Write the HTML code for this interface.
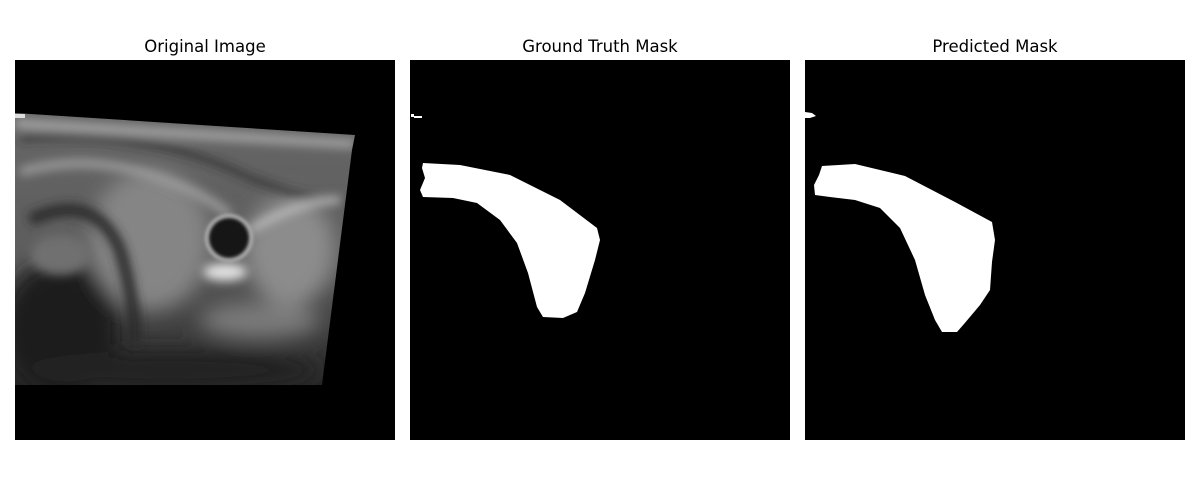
<!DOCTYPE html>
<html><head><meta charset="utf-8"><style>
body{margin:0;background:#fff;width:1200px;height:500px;overflow:hidden;font-family:"DejaVu Sans","Liberation Sans",sans-serif}
</style></head><body>
<svg width="1200" height="500">
<defs>
<filter id="b4" x="-20%" y="-20%" width="140%" height="140%"><feGaussianBlur stdDeviation="5"/></filter>
<filter id="b2"><feGaussianBlur stdDeviation="1.5"/></filter>
<filter id="b8" x="-20%" y="-20%" width="140%" height="140%"><feGaussianBlur stdDeviation="10"/></filter>
<clipPath id="us"><polygon points="15,113 355,135 352,150 322,385 15,385"/></clipPath>
<linearGradient id="fade" x1="0" y1="0" x2="0" y2="1"><stop offset="0" stop-color="#666"/><stop offset="0.55" stop-color="#5c5c5c"/><stop offset="1" stop-color="#262626"/></linearGradient>
</defs>
<g><text x="205" y="52" font-size="16.5" text-anchor="middle" fill="#000">Original Image</text></g>
<g><text x="600" y="52" font-size="16.5" text-anchor="middle" fill="#000">Ground Truth Mask</text></g>
<g><text x="995" y="52" font-size="16.5" text-anchor="middle" fill="#000">Predicted Mask</text></g>

<g>
<rect x="15" y="60" width="380" height="380" fill="#000"/>
<g clip-path="url(#us)">
<rect x="15" y="113" width="345" height="275" fill="url(#fade)"/>
<g filter="url(#b8)">
<ellipse cx="60" cy="330" rx="60" ry="70" fill="#1c1c1c"/>
<ellipse cx="150" cy="240" rx="60" ry="70" fill="#858585"/>
<ellipse cx="290" cy="250" rx="45" ry="55" fill="#8c8c8c"/>
<ellipse cx="170" cy="370" rx="150" ry="20" fill="#202020"/>
<ellipse cx="260" cy="320" rx="60" ry="18" fill="#7a7a7a"/>
</g>
<g filter="url(#b4)">
<path d="M15,119 L355,140 L355,148 L15,128Z" fill="#aaa"/>
<path d="M20,138 Q150,128 250,178 Q300,198 350,203" stroke="#2a2a2a" stroke-width="5" fill="none"/>
<path d="M20,172 Q80,155 140,172 Q200,190 230,215" stroke="#a0a0a0" stroke-width="8" fill="none"/>
<path d="M30,220 Q95,190 120,250 Q135,300 135,345" stroke="#2a2a2a" stroke-width="12" fill="none"/>
<ellipse cx="60" cy="255" rx="30" ry="20" fill="#707070"/>
<ellipse cx="225" cy="272" rx="22" ry="9" fill="#e0e0e0"/>
<path d="M250,230 Q300,200 340,200" stroke="#c8c8c8" stroke-width="6" fill="none"/>
</g>
<circle cx="229" cy="238" r="24" fill="#b0b0b0" filter="url(#b2)"/>
<circle cx="229" cy="238" r="20" fill="#141414" filter="url(#b2)"/>
</g>
<rect x="15" y="114" width="10" height="4" fill="#ddd"/>
</g>

<g>
<rect x="410" y="60" width="380" height="380" fill="#000"/>
<rect x="411" y="114" width="3" height="3" fill="#fff"/><rect x="414" y="116" width="8" height="2" fill="#fff"/>
<path fill="#fff" d="M423,163 L460,165 L510,175 L560,200 L597,228 L600,240 L595,260 L585,293 L577,312 L563,318 L543,317 L537,307 L528,273 L517,243 L500,220 L477,203 L453,198 L423,197 L420,190 L425,178 L422,168Z"/>
</g>

<g>
<rect x="805" y="60" width="380" height="380" fill="#000"/>
<path fill="#fff" d="M805,112 L812,113 L816,116 L810,118 L805,118Z"/>
<path fill="#fff" d="M822,166 L855,164 L905,176 L955,202 L992,222 L995,240 L992,262 L990,290 L980,305 L964,324 L957,332 L942,332 L935,320 L925,295 L915,260 L900,228 L880,208 L855,200 L830,197 L815,195 L814,185 L819,175Z"/>
</g>
</svg>
</body></html>
